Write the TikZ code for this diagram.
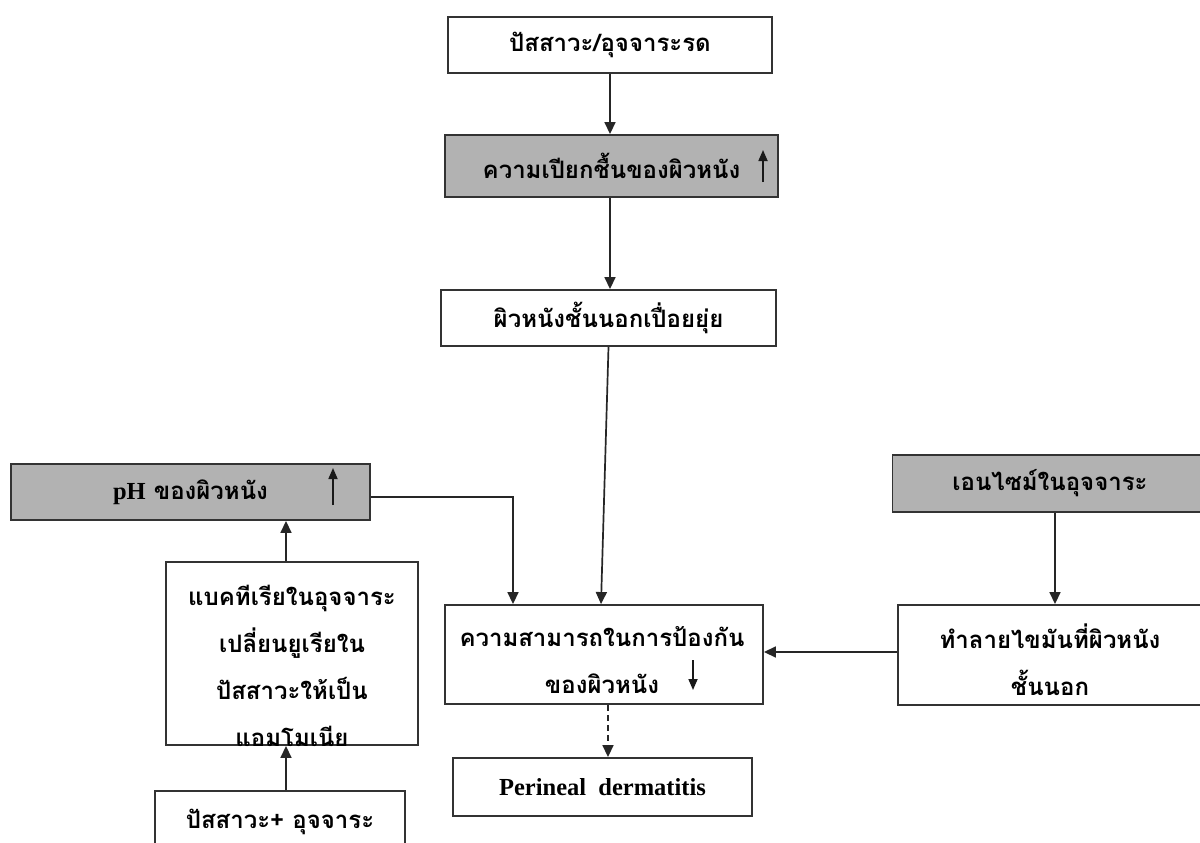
\documentclass[tikz,border=0pt]{standalone}
\usepackage{fontspec}
\setmainfont{Liberation Serif}
\newfontfamily\thaifont[Script=Thai]{Loma}
\usetikzlibrary{arrows.meta}
\newcommand\thaitext{\thaifont\bfseries\fontsize{24}{47}\selectfont}
\newcommand\latintext{\rmfamily\bfseries\fontsize{24.5}{28}\selectfont}
\begin{document}
\begin{tikzpicture}[x=1pt,y=-1pt,
  box/.style={draw=black!80, line width=1.9pt, minimum height=56pt,
    inner sep=0pt, font=\thaitext, align=center},
  greybox/.style={box, fill=black!30},
  link/.style={draw=black!85, line width=1.7pt,
    -{Triangle[width=11pt,length=12pt]}},
  updown/.style={draw=black!90, line width=1.7pt,
    -{Triangle[width=9pt,length=11pt]}}]
\useasboundingbox (0,0) rectangle (1200,843);
\fill[white] (0,0) rectangle (1200,843);
\clip (0,0) rectangle (1200,843);

% main column
\node[box, minimum width=324pt] (b1) at (610,45) {ปัสสาวะ/อุจจาระรด};
\node[greybox, minimum width=333pt, minimum height=62pt] (b2) at (611.5,166) {ความเปียกชื้นของผิวหนัง};
\node[box, minimum width=335pt] (b3) at (608.5,318) {ผิวหนังชั้นนอกเปื่อยยุ่ย};
\node[box, minimum width=318pt, minimum height=99pt] (prot) at (604,654.5) {};
\node[font=\thaitext, align=center, anchor=north, inner sep=0pt] (prottext) at (602,626)
  {ความสามารถในการป้องกัน\\ของผิวหนัง};
\node[box, minimum width=299pt, minimum height=58pt, font=\latintext] (per) at (602.5,787)
  {Perineal\ \ dermatitis};

% left branch
\node[greybox, minimum width=359pt] (ph) at (190.5,492) {{\latintext pH} ของผิวหนัง};
\node[box, minimum width=252pt, minimum height=183pt] (bac) at (292,653.5) {};
\node[font=\thaitext, align=center, anchor=north, inner sep=0pt] (bactext) at (292,585)
  {แบคทีเรียในอุจจาระ\\เปลี่ยนยูเรียใน\\ปัสสาวะให้เป็น\\แอมโมเนีย};
\node[box, minimum width=250pt, minimum height=62pt] (src) at (280,822) {ปัสสาวะ+ อุจจาระ};

% right branch
\node[greybox, minimum width=315pt, minimum height=57pt] (enz) at (1050,483.5) {เอนไซม์ในอุจจาระ};
\node[box, minimum width=312pt, minimum height=100pt] (des) at (1054,655) {};
\node[font=\thaitext, align=center, anchor=north, inner sep=0pt] (destext) at (1050,624)
  {ทำลายไขมันที่ผิวหนัง\\ชั้นนอก};

% connectors
\draw[link] (b1.south) -- (b1.south |- b2.north);
\draw[link] (b1.south |- b2.south) -- (b1.south |- b3.north);
\draw[link] (b3.south) -- ([xshift=-3pt]prot.north);
\draw[link] ([yshift=-5pt]ph.east) -| ([xshift=-91pt]prot.north);
\draw[link] ([xshift=-6pt]bac.north) -- ([xshift=-6pt]bac.north |- ph.south);
\draw[link] ([xshift=6pt]src.north) -- ([xshift=6pt]src.north |- bac.south);
\draw[link] ([xshift=5pt]enz.south) -- ([xshift=5pt]enz.south |- des.north);
\draw[link] ([yshift=3pt]des.west) -- ([yshift=3pt]des.west -| prot.east);
\draw[link, dash pattern=on 6pt off 4pt] ([xshift=4pt]prot.south) -- ([xshift=4pt]prot.south |- per.north);

% increase / decrease markers inside the boxes
\coordinate (m1a) at (763,182); \coordinate (m1b) at (763,150);
\coordinate (m2a) at (333,505); \coordinate (m2b) at (333,468);
\coordinate (m3a) at (693,660); \coordinate (m3b) at (693,690);
\draw[updown] (m1a) -- (m1b);
\draw[updown] (m2a) -- (m2b);
\draw[updown] (m3a) -- (m3b);
\end{tikzpicture}
\end{document}
